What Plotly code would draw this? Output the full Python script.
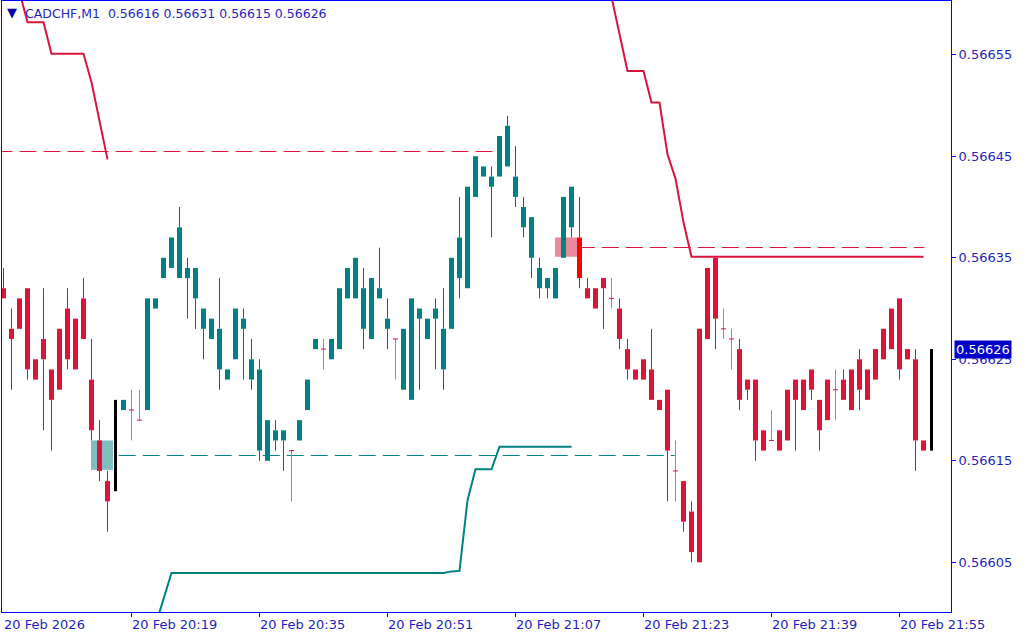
import plotly.graph_objects as go
import pandas as pd

# ---------------- data ----------------
symbol = "CADCHF,M1"
times = pd.date_range("2026-02-20 20:03", periods=117, freq="min")

opens = [0.56632, 0.56628, 0.56631, 0.56632, 0.56625, 0.56627, 0.56624, 0.56628, 0.56630, 0.56629,
         0.56631, 0.56623, 0.56617, 0.56613, 0.56621, 0.56620, 0.56620, 0.56619, 0.56620, 0.56630,
         0.56633, 0.56634, 0.56633, 0.56633, 0.56631, 0.56628, 0.56627, 0.56624, 0.56623, 0.56625,
         0.56628, 0.56623, 0.56616, 0.56615, 0.56617, 0.56617, 0.56616, 0.56617, 0.56620, 0.56626,
         0.56626, 0.56625, 0.56626, 0.56631, 0.56631, 0.56628, 0.56627, 0.56631, 0.56628, 0.56627,
         0.56622, 0.56621, 0.56629, 0.56627, 0.56629, 0.56624, 0.56628, 0.56633, 0.56632, 0.56641,
         0.56643, 0.56642, 0.56643, 0.56644, 0.56641, 0.56638, 0.56635, 0.56632, 0.56632, 0.56631,
         0.56635, 0.56638, 0.56637, 0.56632, 0.56632, 0.56633, 0.56631, 0.56630, 0.56626, 0.56624,
         0.56625, 0.56624, 0.56621, 0.56622, 0.56614, 0.56613, 0.56610, 0.56605, 0.56627, 0.56635,
         0.56628, 0.56627, 0.56626, 0.56623, 0.56623, 0.56618, 0.56617, 0.56616, 0.56617, 0.56623,
         0.56623, 0.56622, 0.56621, 0.56619, 0.56622, 0.56623, 0.56620, 0.56622, 0.56624, 0.56623,
         0.56625, 0.56626, 0.56631, 0.56626, 0.56625, 0.56617, 0.56616]

highs = [0.56634, 0.56630, 0.56631, 0.56632, 0.56625, 0.56632, 0.56624, 0.56628, 0.56632, 0.56629,
         0.56633, 0.56627, 0.56619, 0.56614, 0.56621, 0.56621, 0.56622, 0.56622, 0.56631, 0.56631,
         0.56635, 0.56637, 0.56640, 0.56635, 0.56634, 0.56630, 0.56629, 0.56633, 0.56624, 0.56630,
         0.56630, 0.56627, 0.56625, 0.56619, 0.56619, 0.56618, 0.56616, 0.56619, 0.56623, 0.56627,
         0.56627, 0.56627, 0.56632, 0.56634, 0.56635, 0.56634, 0.56633, 0.56636, 0.56631, 0.56627,
         0.56628, 0.56631, 0.56630, 0.56629, 0.56631, 0.56632, 0.56635, 0.56641, 0.56642, 0.56645,
         0.56644, 0.56644, 0.56647, 0.56649, 0.56646, 0.56641, 0.56639, 0.56635, 0.56633, 0.56634,
         0.56641, 0.56642, 0.56641, 0.56633, 0.56632, 0.56633, 0.56633, 0.56631, 0.56627, 0.56624,
         0.56625, 0.56628, 0.56621, 0.56622, 0.56617, 0.56613, 0.56611, 0.56628, 0.56634, 0.56635,
         0.56630, 0.56628, 0.56627, 0.56623, 0.56623, 0.56618, 0.56620, 0.56618, 0.56622, 0.56623,
         0.56623, 0.56624, 0.56621, 0.56623, 0.56624, 0.56624, 0.56624, 0.56626, 0.56624, 0.56626,
         0.56628, 0.56630, 0.56631, 0.56626, 0.56626, 0.56617, 0.56631]

lows = [0.56631, 0.56622, 0.56628, 0.56623, 0.56623, 0.56618, 0.56616, 0.56622, 0.56624, 0.56624,
        0.56627, 0.56617, 0.56613, 0.56608, 0.56612, 0.56620, 0.56617, 0.56619, 0.56620, 0.56630,
        0.56633, 0.56634, 0.56633, 0.56629, 0.56628, 0.56625, 0.56627, 0.56622, 0.56623, 0.56625,
        0.56623, 0.56622, 0.56615, 0.56615, 0.56616, 0.56614, 0.56611, 0.56617, 0.56620, 0.56626,
        0.56624, 0.56625, 0.56626, 0.56631, 0.56631, 0.56626, 0.56627, 0.56631, 0.56626, 0.56623,
        0.56622, 0.56621, 0.56622, 0.56627, 0.56624, 0.56622, 0.56628, 0.56631, 0.56632, 0.56641,
        0.56643, 0.56637, 0.56643, 0.56644, 0.56640, 0.56637, 0.56633, 0.56631, 0.56631, 0.56631,
        0.56635, 0.56637, 0.56632, 0.56631, 0.56630, 0.56628, 0.56630, 0.56626, 0.56623, 0.56623,
        0.56623, 0.56621, 0.56620, 0.56611, 0.56611, 0.56608, 0.56605, 0.56605, 0.56627, 0.56626,
        0.56627, 0.56624, 0.56620, 0.56621, 0.56615, 0.56616, 0.56617, 0.56616, 0.56617, 0.56616,
        0.56620, 0.56621, 0.56616, 0.56619, 0.56619, 0.56621, 0.56620, 0.56620, 0.56621, 0.56623,
        0.56625, 0.56626, 0.56623, 0.56625, 0.56614, 0.56616, 0.56615]

closes = [0.56631, 0.56627, 0.56628, 0.56624, 0.56623, 0.56625, 0.56621, 0.56622, 0.56625, 0.56624,
          0.56627, 0.56618, 0.56614, 0.56611, 0.56612, 0.56621, 0.56620, 0.56619, 0.56631, 0.56631,
          0.56635, 0.56637, 0.56638, 0.56634, 0.56634, 0.56630, 0.56629, 0.56628, 0.56624, 0.56630,
          0.56629, 0.56625, 0.56624, 0.56619, 0.56618, 0.56618, 0.56616, 0.56619, 0.56623, 0.56627,
          0.56626, 0.56627, 0.56632, 0.56634, 0.56635, 0.56632, 0.56633, 0.56632, 0.56629, 0.56627,
          0.56628, 0.56631, 0.56630, 0.56629, 0.56630, 0.56628, 0.56635, 0.56637, 0.56642, 0.56645,
          0.56644, 0.56643, 0.56647, 0.56648, 0.56643, 0.56640, 0.56639, 0.56634, 0.56633, 0.56634,
          0.56641, 0.56642, 0.56633, 0.56631, 0.56630, 0.56632, 0.56631, 0.56627, 0.56624, 0.56623,
          0.56623, 0.56621, 0.56620, 0.56616, 0.56614, 0.56609, 0.56606, 0.56628, 0.56634, 0.56629,
          0.56628, 0.56627, 0.56621, 0.56622, 0.56617, 0.56616, 0.56617, 0.56618, 0.56622, 0.56621,
          0.56620, 0.56624, 0.56618, 0.56623, 0.56622, 0.56621, 0.56624, 0.56625, 0.56621, 0.56626,
          0.56628, 0.56630, 0.56624, 0.56625, 0.56617, 0.56616, 0.56626]

# bar state from the colouring indicator
states = (["down"] * 14 + ["mark"] + ["up"] + ["doji"] * 2 + ["up"] * 18 + ["doji"] + ["up"] * 3 +
          ["doji"] + ["up"] * 8 + ["doji"] + ["up"] * 22 + ["flip"] + ["down"] * 3 + ["doji"] +
          ["down"] * 7 + ["doji"] + ["down"] * 5 + ["doji"] * 2 + ["down"] * 4 + ["doji"] +
          ["down"] * 7 + ["doji"] + ["down"] * 11 + ["mark"])

# trailing-stop style indicator lines (bar index -> price)
upper1_idx = list(range(2, 14))
upper1_val = [0.566612, 0.566582, 0.566582, 0.566582, 0.566551, 0.566551, 0.566551, 0.566551,
              0.566551, 0.566523, 0.566486, 0.566447]
upper2_idx = list(range(76, 116))
upper2_val = [0.566607, 0.566569, 0.566534, 0.566534, 0.566534, 0.566503, 0.566503, 0.566452,
              0.566428, 0.566385, 0.566351, 0.566351, 0.566351, 0.566351, 0.566351, 0.566351,
              0.566351, 0.566351, 0.566351, 0.566351, 0.566351, 0.566351, 0.566351, 0.566351,
              0.566351, 0.566351, 0.566351, 0.566351, 0.566351, 0.566351, 0.566351, 0.566351,
              0.566351, 0.566351, 0.566351, 0.566351, 0.566351, 0.566351, 0.566351, 0.566351]
lower_idx = list(range(19, 72))
lower_val = [0.565988, 0.566014, 0.5660395, 0.5660395, 0.5660395, 0.5660395, 0.5660395, 0.5660395,
             0.5660395, 0.5660395, 0.5660395, 0.5660395, 0.5660395, 0.5660395, 0.5660395, 0.5660395,
             0.5660395, 0.5660395, 0.5660395, 0.5660395, 0.5660395, 0.5660395, 0.5660395, 0.5660395,
             0.5660395, 0.5660395, 0.5660395, 0.5660395, 0.5660395, 0.5660395, 0.5660395, 0.5660395,
             0.5660395, 0.5660395, 0.5660395, 0.5660395, 0.5660395, 0.566041, 0.5660415, 0.566111,
             0.5661416, 0.5661416, 0.5661416, 0.5661638, 0.5661638, 0.5661638, 0.5661638, 0.5661638,
             0.5661638, 0.5661638, 0.5661638, 0.5661638, 0.5661638]

# horizontal levels: (price, from bar, to bar, kind)
levels = [(0.5664547, -1.0, 61.85, "res"), (0.5663601, 71.8, 115.1, "res"), (0.5661552, 14.4, 83.9, "sup")]
# zones: (from bar, to bar, low price, high price, kind)
zones = [(10.94, 13.69, 0.566141, 0.566170, "buy"), (68.94, 71.69, 0.566351, 0.566370, "sell")]

price_ticks = [0.56605, 0.56615, 0.56625, 0.56635, 0.56645, 0.56655]
time_tick_idx = [0, 16, 32, 48, 64, 80, 96, 112]
time_tick_text = ["20 Feb 2026", "20 Feb 20:19", "20 Feb 20:35", "20 Feb 20:51",
                  "20 Feb 21:07", "20 Feb 21:23", "20 Feb 21:39", "20 Feb 21:55"]
last_price = closes[-1]

# ---------------- style ----------------
TEAL = "#008080"
CRIMSON = "#DC143C"
RED = "#FF0000"
LIME = "#22DD22"
BLACK = "#000000"
FRAME = "#0000FF"
TXT = "#1F1FC0"
FONT = "DejaVu Sans"
body_color = {"down": CRIMSON, "up": TEAL, "flip": RED, "mark": BLACK}
BODY_W = 0.625
MARK_W = 0.375

idx = list(range(len(opens)))
fig = go.Figure()

# bodies
for st, col in body_color.items():
    ii = [i for i in idx if states[i] == st]
    fig.add_trace(go.Bar(
        x=ii,
        y=[abs(closes[i] - opens[i]) for i in ii],
        base=[min(opens[i], closes[i]) for i in ii],
        width=MARK_W if st == "mark" else BODY_W,
        marker=dict(color=col, line=dict(width=0)),
        hoverinfo="skip", showlegend=False))

# wicks (outside bodies) for normal bars
wx, wy = [], []
for i in idx:
    if states[i] in ("doji", "mark"):
        continue
    top = max(opens[i], closes[i])
    bot = min(opens[i], closes[i])
    if highs[i] > top:
        wx += [i, i, None]
        wy += [top, highs[i], None]
    if lows[i] < bot:
        wx += [i, i, None]
        wy += [lows[i], bot, None]
fig.add_trace(go.Scatter(x=wx, y=wy, mode="lines", line=dict(color=RED, width=1),
                         hoverinfo="skip", showlegend=False))

# doji bars
dx, dy, tx, ty = [], [], [], []
for i in idx:
    if states[i] != "doji":
        continue
    dx += [i, i, None]
    dy += [lows[i], highs[i], None]
    tx += [i - BODY_W / 2, i + BODY_W / 2, None]
    ty += [opens[i], opens[i], None]
fig.add_trace(go.Scatter(x=dx, y=dy, mode="lines", line=dict(color=LIME, width=1),
                         hoverinfo="skip", showlegend=False))
fig.add_trace(go.Scatter(x=tx, y=ty, mode="lines", line=dict(color=CRIMSON, width=1),
                         hoverinfo="skip", showlegend=False))

# indicator lines
for xs, ys, col in [(upper1_idx, upper1_val, CRIMSON), (upper2_idx, upper2_val, CRIMSON),
                    (lower_idx, lower_val, TEAL)]:
    fig.add_trace(go.Scatter(x=xs, y=ys, mode="lines", line=dict(color=col, width=2),
                             hoverinfo="skip", showlegend=False))

# levels and zones
shapes = []
for price, x0, x1, kind in levels:
    shapes.append(dict(type="line", xref="x", yref="y", x0=x0, x1=x1, y0=price, y1=price,
                       line=dict(color=CRIMSON if kind == "res" else TEAL, width=1, dash="17px,7px"),
                       layer="below"))
for x0, x1, y0, y1, kind in zones:
    shapes.append(dict(type="rect", xref="x", yref="y", x0=x0, x1=x1, y0=y0, y1=y1,
                       fillcolor="rgba(0,128,128,0.5)" if kind == "buy" else "rgba(220,20,60,0.5)",
                       line=dict(width=0), layer="below"))

annotations = []
for k, t in zip(time_tick_idx, time_tick_text):
    annotations.append(dict(x=k, y=0, xref="x", yref="paper", text=t, showarrow=False,
                            xanchor="left", yanchor="top", xshift=-2, yshift=-3,
                            font=dict(family=FONT, size=13, color=TXT)))
annotations.append(dict(x=0, y=1, xref="paper", yref="paper", text="\u25BC", showarrow=False,
                        xanchor="left", yanchor="top", xshift=3, yshift=-2,
                        font=dict(family=FONT, size=13, color="#0000A0")))
header = "%s\u00a0\u00a0%.5f %.5f %.5f %.5f" % (symbol, opens[-1], highs[-1], lows[-1], closes[-1])
annotations.append(dict(x=0, y=1, xref="paper", yref="paper", text=header, showarrow=False,
                        xanchor="left", yanchor="top", xshift=21, yshift=-3,
                        font=dict(family=FONT, size=12.5, color=TXT)))
annotations.append(dict(x=1, y=last_price, xref="paper", yref="y", text="%.5f" % last_price,
                        showarrow=False, xanchor="left", yanchor="middle", xshift=3,
                        bgcolor="#0000C8", borderpad=1,
                        font=dict(family=FONT, size=13, color="#FFFFFF")))

fig.update_layout(
    width=1024, height=640,
    margin=dict(l=2, r=73, t=1, b=28),
    paper_bgcolor="#FFFFFF", plot_bgcolor="#FFFFFF",
    barmode="overlay", showlegend=False,
    shapes=shapes, annotations=annotations,
    xaxis=dict(range=[-0.1875, 118.4375], showgrid=False, zeroline=False,
               showline=True, mirror=True, linecolor=FRAME, linewidth=1,
               tickvals=time_tick_idx[1:], ticks="outside", ticklen=4, tickcolor=FRAME,
               showticklabels=False, fixedrange=True),
    yaxis=dict(range=[0.5660009852, 0.566603], side="right", showgrid=False, zeroline=False,
               showline=True, mirror=True, linecolor=FRAME, linewidth=1,
               tickvals=price_ticks, ticktext=["%.5f" % p for p in price_ticks],
               ticks="outside", ticklen=4, tickcolor=FRAME,
               tickfont=dict(family=FONT, size=13, color=TXT), fixedrange=True),
)

fig.write_html("out.html", config={"displayModeBar": False},
               post_script="document.body.style.margin='0';document.body.style.overflow='hidden';")
